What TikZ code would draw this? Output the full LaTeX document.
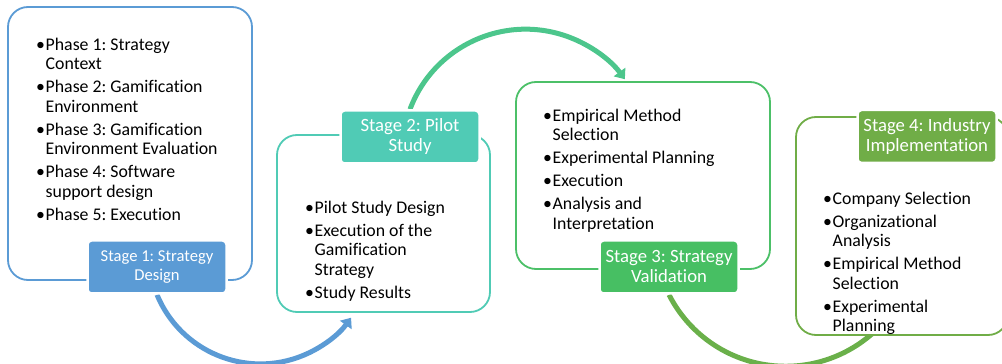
\documentclass[tikz,border=0pt]{standalone}
\usepackage{fontspec}
\setmainfont{Carlito}[Ligatures=NoCommon]
\usetikzlibrary{arrows.meta}
\pgfdeclarelayer{background}
\pgfsetlayers{background,main}
\definecolor{cblue}{HTML}{5B9BD5}
\definecolor{cteal}{HTML}{50CBB5}
\definecolor{ctealarc}{HTML}{4CC68C}
\definecolor{cgreen}{HTML}{47BF63}
\definecolor{cgreenbox}{HTML}{4CC068}
\definecolor{colive}{HTML}{70AD47}
\definecolor{coarc}{HTML}{6AB04A}
\frenchspacing
\newcommand{\bitem}[1]{\par\hangindent=9.5pt\hangafter=1\noindent\hbox to 9.5pt{\textbullet\hfil}#1}
\newcommand{\itemlist}[1]{\parbox[t]{250pt}{\frenchspacing\setlength{\parskip}{3.5pt}\setlength{\parindent}{0pt}#1}}
\begin{document}
\begin{tikzpicture}[x=1pt,y=1pt,
  box/.style={draw=#1, line width=1.8pt, rounded corners=20pt, fill=white, inner sep=0pt, outer sep=0pt},
  stagelabel/.style={fill=#1, draw=white, line width=2.5pt, rounded corners=4pt, minimum width=139pt, minimum height=53pt, inner sep=0pt, text=white, align=center},
  listtext/.style={anchor=north west, inner sep=0pt, font=\fontsize{17.8}{19.5}\selectfont},
  flow/.style={line width=5pt, draw=#1},
  tip/.style={-{Triangle[length=9pt,width=14pt]}}
]
\useasboundingbox (0,0) rectangle (1002,364);

% boxes
\node[box=cblue, minimum width=244pt, minimum height=273pt] (b1) at (130,220.5) {};
\node[box=cteal, minimum width=213pt, minimum height=177pt] (b2) at (383.5,140.5) {};
\node[box=cgreenbox, minimum width=254pt, minimum height=187pt] (b3) at (643,188.5) {};
\node[box=colive, minimum width=212pt, minimum height=218pt] (b4) at (902,138) {};

% lists
\node[listtext] (t1) at (36,327) {\itemlist{%
\bitem{\rule{0pt}{13pt}Phase 1: Strategy\\Context}
\bitem{Phase 2: Gamification\\Environment}
\bitem{Phase 3: Gamification\\Environment Evaluation}
\bitem{Phase 4: Software\\support design}
\bitem{Phase 5: Execution}}};

\node[listtext] (t2) at (305,164) {\itemlist{%
\bitem{\rule{0pt}{13pt}Pilot Study Design}
\bitem{Execution of the\\Gamification\\Strategy}
\bitem{Study Results}}};

\node[listtext] (t3) at (543,256) {\itemlist{%
\bitem{\rule{0pt}{13pt}Empirical Method\\Selection}
\bitem{Experimental Planning}
\bitem{Execution}
\bitem{Analysis and\\Interpretation}}};

\node[listtext] (t4) at (823,173) {\itemlist{%
\bitem{\rule{0pt}{13pt}Company Selection}
\bitem{Organizational\\Analysis}
\bitem{Empirical Method\\Selection}
\bitem{Experimental\\Planning}}};

% stage labels
\node[stagelabel=cblue, font=\fontsize{16.6}{19.5}\selectfont] (s1) at (157,97) {Stage 1: Strategy\\Design};
\node[stagelabel=cteal, font=\fontsize{18.7}{20}\selectfont] (s2) at (410,227) {Stage 2: Pilot\\Study};
\node[stagelabel=cgreen, font=\fontsize{18.7}{20}\selectfont] (s3) at (669,97) {Stage 3: Strategy\\Validation};
\node[stagelabel=colive, font=\fontsize{18.7}{20}\selectfont] (s4) at (927,227.5) {Stage 4: Industry\\Implementation};

% flow arcs
\begin{pgfonlayer}{background}
\draw[flow=cblue, tip] (s1.south) arc[start angle=202.5, end angle=324, radius=112];
\draw[flow=ctealarc, tip] (s2.north) arc[start angle=159.4, end angle=36.5, radius=123.5];
\draw[flow=coarc] (s3.south) arc[start angle=207, end angle=315, radius=131];
\end{pgfonlayer}
\end{tikzpicture}
\end{document}
